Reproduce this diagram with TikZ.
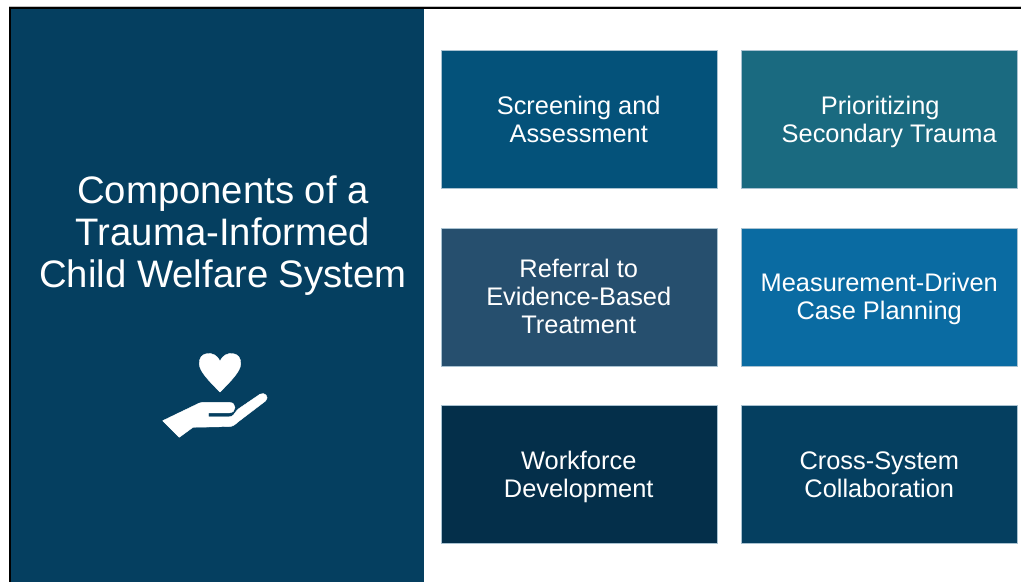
\documentclass[tikz,border=0pt]{standalone}
\usepackage{fontspec}
\setmainfont{Liberation Sans}
\definecolor{panelc}{HTML}{053F60}
\definecolor{screenc}{HTML}{04527A}
\definecolor{prioc}{HTML}{1A6A80}
\definecolor{referc}{HTML}{264F6E}
\definecolor{measc}{HTML}{0A6BA2}
\definecolor{workc}{HTML}{042F4A}
\definecolor{edgec}{HTML}{A9C2D1}
\newcommand{\cardtop}{\rule{0pt}{25.4pt}}
\newcommand{\cardbot}{\rule[-8pt]{0pt}{8pt}}
\tikzset{
  card/.style={draw=edgec,line width=0.3pt,minimum width=276.2pt,minimum height=138.3pt,inner sep=0pt,
    text=white,align=center,anchor=north west,font=\fontsize{25.4}{28}\selectfont},
  titletext/.style={text=white,align=center,inner sep=0pt,font=\fontsize{38.3}{42}\selectfont},
  iconshape/.style={fill=white,draw=white,line width=0.4pt,line join=round},
}
\begin{document}
\begin{tikzpicture}[x=1pt,y=-1pt]
\useasboundingbox (0,0) rectangle (1021,582);
\fill[white] (0,0) rectangle (1021,582);
\fill[black!25] (9,6) rectangle (1021,7);
\fill[black] (9,7) rectangle (1021,9);
\fill[black] (9,7) rectangle (11,582);
\fill[panelc] (11,9) rectangle (424,582);
\node[titletext] (title) at (223,237.5) {Components of a\\Trauma-Informed\\Child Welfare System\strut};
\node[card,fill=screenc] (screen) at (440.5,50) {\cardtop Screening and\\Assessment\cardbot};
\node[card,fill=prioc] (prio) at (741,50) {\cardtop\hspace*{2pt}Prioritizing\\\hspace*{20pt}Secondary Trauma\cardbot};
\node[card,fill=referc] (refer) at (440.5,227.5) {\cardtop Referral to\\Evidence-Based\\Treatment\cardbot};
\node[card,fill=measc] (meas) at (741,227.5) {\cardtop Measurement-Driven\\Case Planning\cardbot};
\node[card,fill=workc] (work) at (440.5,405) {\cardtop Workforce\\Development\cardbot};
\node[card,fill=panelc] (cross) at (741,405) {\cardtop Cross-System\\Collaboration\cardbot};
% heart
\path[iconshape] (220,361)
  .. controls (217,355) and (212,353) .. (207.5,353.5)
  .. controls (202,354) and (199,358) .. (199.3,364)
  .. controls (199.5,371) and (208,380) .. (220,392)
  .. controls (232,380) and (240.5,371) .. (240.7,364)
  .. controls (241,358) and (238,354) .. (232.5,353.5)
  .. controls (228,353) and (223,355) .. (220,361) -- cycle;
% hand
\path[iconshape] (162.7,420.7) -- (199,403.2)
  .. controls (200,402.6) and (201,402.4) .. (202,402.4)
  -- (229.5,402.4)
  .. controls (237,402.4) and (236.5,412.8) .. (229.5,412.8)
  -- (208.3,412.8) -- (208.3,416.8) -- (229,416.8)
  .. controls (231,416.8) and (232.5,416) .. (233.5,415)
  .. controls (235,413.5) and (236,410.5) .. (238.3,409)
  -- (260,394.2)
  .. controls (264.5,391.5) and (270,397) .. (265.5,401)
  -- (238.3,421.7)
  .. controls (235,424.5) and (233,426.6) .. (229,426.6)
  -- (193,427.3)
  -- (179.3,437.3) -- cycle;
\end{tikzpicture}
\end{document}
